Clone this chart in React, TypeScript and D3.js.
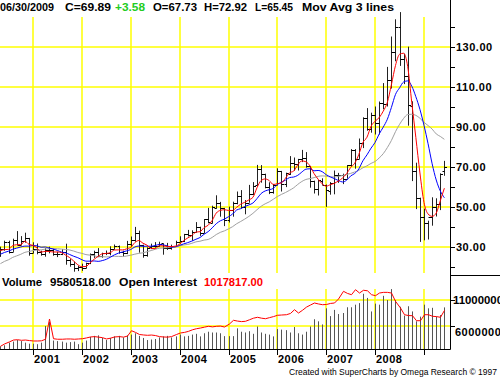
import React from 'react';
import * as d3 from 'd3';

// ---- data (monthly, May 2000 .. Jun 2009) ----
const firstMonth = new Date(2000, 4, 1);
const warmupCloses = [12.05, 12.75, 12.27, 16.76, 18.66, 16.84, 19.29, 20.53, 22.10, 24.51, 21.75, 24.59, 25.60, 27.64, 30.43, 26.90, 25.74];

const opens = [
  25.8, 29.0, 32.5, 27.5, 33.1, 30.9, 32.8, 34.2,
  27.0, 28.7, 27.3, 26.3, 28.5, 28.4, 26.3, 26.4, 27.2, 23.4, 21.2, 19.4,
  19.8, 19.5, 21.7, 26.3, 27.3, 25.3, 26.9, 27.0, 29.0, 30.4, 27.2, 26.9,
  31.2, 33.5, 36.6, 31.0, 25.8, 29.6, 30.2, 30.5, 31.6, 29.2, 29.1, 30.4,
  32.5, 33.0, 36.2, 35.8, 37.4, 39.9, 37.1, 43.8, 42.1, 49.6, 51.8, 49.1,
  43.5, 48.2, 51.8, 55.4, 49.7, 52.0, 56.5, 60.6, 68.9, 66.2, 59.8, 57.3,
  61.0, 67.9, 61.4, 66.6, 71.9, 71.3, 73.9, 74.4, 70.3, 62.9, 58.7, 63.1,
  61.1, 58.1, 61.8, 65.9, 65.7, 64.0, 70.7, 78.2, 74.0, 81.7, 94.5, 88.7,
  96.0, 91.8, 101.8, 101.6, 113.5, 127.4, 140.0, 124.1, 115.5, 100.6, 67.8, 54.4,
  44.6, 41.7, 44.8, 49.7, 51.1, 67.73,
];
const highs = [
  30.0, 33.0, 33.0, 34.0, 37.8, 35.3, 37.0, 34.4,
  32.2, 31.6, 28.0, 29.2, 30.0, 29.0, 27.5, 28.8, 31.5, 23.8, 22.5, 20.5,
  21.5, 22.0, 26.6, 28.0, 29.3, 27.0, 28.1, 30.2, 31.1, 30.6, 28.0, 32.9,
  35.1, 39.9, 38.0, 31.0, 29.7, 31.5, 32.3, 32.5, 31.6, 31.9, 31.0, 33.0,
  35.2, 36.4, 38.4, 38.2, 42.3, 40.0, 43.8, 49.4, 50.5, 55.7, 52.4, 49.4,
  50.0, 52.5, 57.6, 58.3, 53.3, 60.9, 62.3, 70.9, 70.8, 66.5, 62.2, 61.4,
  69.2, 67.9, 67.0, 75.3, 74.6, 73.9, 78.4, 77.3, 70.4, 63.0, 63.3, 64.2,
  61.1, 62.3, 68.1, 66.9, 66.5, 70.8, 78.8, 78.8, 84.1, 94.7, 99.3, 97.0,
  100.1, 102.6, 111.8, 119.9, 135.1, 143.7, 147.3, 126.5, 130.0, 102.7, 72.0, 54.5,
  49.0, 43.0, 54.7, 54.2, 66.7, 72.92,
];
const lows = [
  24.9, 28.0, 26.6, 27.4, 30.8, 30.8, 32.0, 25.5,
  26.8, 26.2, 25.5, 25.0, 26.7, 25.5, 24.8, 25.8, 21.0, 20.0, 17.5, 17.8,
  17.9, 19.2, 21.3, 24.4, 24.8, 24.5, 25.8, 25.7, 28.6, 26.5, 25.1, 26.3,
  29.8, 32.5, 27.0, 24.5, 25.0, 28.8, 29.5, 30.1, 26.0, 28.4, 28.5, 30.1,
  32.2, 32.3, 35.1, 33.0, 37.1, 35.4, 36.7, 41.7, 41.7, 49.0, 45.0, 40.3,
  42.1, 45.0, 51.2, 49.1, 46.2, 52.0, 55.8, 60.5, 62.0, 59.2, 56.3, 56.5,
  60.8, 57.6, 59.8, 65.9, 68.0, 68.1, 72.3, 69.5, 59.5, 56.6, 55.6, 60.9,
  49.9, 56.0, 56.2, 61.9, 61.3, 64.0, 70.0, 69.0, 73.9, 79.3, 88.0, 87.0,
  86.1, 86.1, 98.7, 100.1, 109.1, 122.7, 120.4, 111.3, 90.5, 62.8, 48.8, 32.4,
  33.2, 33.6, 40.5, 45.1, 48.3, 65.45,
];
const closes = [
  29.01, 32.50, 27.43, 33.12, 30.84, 32.70, 34.40, 26.80,
  28.66, 27.39, 26.29, 28.46, 28.37, 26.25, 26.35, 27.20, 23.43, 21.18, 19.44, 19.84,
  19.48, 21.74, 26.31, 27.29, 25.31, 26.86, 27.02, 28.98, 30.45, 27.22, 26.89, 31.20,
  33.51, 36.60, 31.04, 25.80, 29.56, 30.19, 30.54, 31.57, 29.20, 29.11, 30.41, 32.52,
  33.05, 36.16, 35.76, 37.38, 39.88, 37.05, 43.80, 42.12, 49.64, 51.76, 49.13, 43.45,
  48.20, 51.75, 55.40, 49.72, 51.97, 56.50, 60.57, 68.94, 66.24, 59.76, 57.32, 61.04,
  67.92, 61.41, 66.63, 71.88, 71.29, 73.93, 74.40, 70.26, 62.91, 58.73, 63.13, 61.05,
  58.14, 61.79, 65.87, 65.71, 64.01, 70.68, 78.21, 74.04, 81.66, 94.53, 88.71, 95.98,
  91.75, 101.84, 101.58, 113.46, 127.35, 140.00, 124.08, 115.46, 100.64, 67.81, 54.43, 44.60,
  41.68, 44.76, 49.66, 51.12, 66.31, 69.89,
];
// volume in millions of contracts
const volumes = [
  2.1, 2.3, 2.8, 3.0, 3.3, 3.1, 2.8, 2.6,
  2.6, 2.5, 2.8, 6.0, 6.8, 3.2, 3.1, 3.0, 2.8, 2.9, 3.0, 2.5,
  2.8, 3.2, 3.9, 4.1, 4.2, 3.7, 3.3, 3.7, 4.0, 4.1, 3.8, 4.2,
  4.35, 4.6, 4.1, 3.7, 3.3, 3.4, 3.5, 3.8, 4.0, 4.1, 3.8, 4.0,
  4.35, 4.0, 4.1, 4.35, 4.5, 4.0, 4.6, 4.9, 4.75, 4.75, 4.6, 4.05,
  4.05, 4.05, 5.55, 4.9, 4.75, 5.0, 4.5, 5.9, 4.75, 4.5, 4.35, 4.0,
  5.4, 5.3, 5.2, 4.75, 5.8, 4.6, 4.35, 4.9, 5.9, 7.3, 6.9, 6.3,
  9.4, 7.9, 9.1, 8.3, 8.5, 9.6, 9.6, 10.1, 10.4, 12.2, 11.4, 8.8,
  10.3, 10.1, 11.8, 11.0, 13.1, 11.0, 9.7, 8.0, 9.8, 8.8, 6.9, 7.8,
  10.1, 9.4, 9.5, 7.8, 8.1, 9.58,
];
// open interest in thousands of contracts
const openInterest = [
  336, 380, 420, 455, 461, 450, 455, 445,
  437, 437, 440, 470, 854, 480, 470, 470, 475, 475, 470, 475,
  480, 495, 513, 520, 510, 500, 475, 490, 513, 520, 510, 530,
  632, 600, 560, 551, 545, 550, 540, 520, 513, 510, 520, 560,
  589, 600, 620, 650, 670, 683, 700, 716, 705, 716, 720, 702,
  760, 830, 815, 805, 811, 840, 870, 887, 870, 860, 880, 900,
  925, 930, 936, 960, 1031, 968, 1020, 1080, 1120, 1158, 1140, 1126,
  1130, 1150, 1158, 1234, 1380, 1340, 1316, 1411, 1348, 1400, 1390, 1316,
  1297, 1348, 1360, 1360, 1348, 1190, 1063, 936, 920, 917, 822, 822,
  936, 936, 906, 900, 887, 1018,
];
const maPeriods = [18, 9, 4];
const maColors = ['#a0a0a0', '#0000ff', '#ff0000'];
const priceTicks = [30, 50, 70, 90, 110, 130];
const priceMinorTicks = [20, 40, 60, 80, 100, 120, 140];
const yearLabels = ['2001', '2002', '2003', '2004', '2005', '2006', '2007', '2008', ''];
const volGrid = [6000000, 11000000];
const header = [
  { t: '06/30/2009', c: '#000', x: 0, w: 54 },
  { t: 'C=69.89', c: '#000', x: 65, w: 46 },
  { t: '+3.58', c: '#22cc22', x: 115, w: 30 },
  { t: 'O=67.73', c: '#000', x: 153, w: 44 },
  { t: 'H=72.92', c: '#000', x: 204, w: 43 },
  { t: 'L=65.45', c: '#000', x: 255, w: 38 },
  { t: 'Mov Avg 3 lines', c: '#000', x: 302, w: 92 },
];
const volHeader = [
  { t: 'Volume', c: '#000', x: 2, w: 40 },
  { t: '9580518.00', c: '#000', x: 50, w: 61 },
  { t: 'Open Interest', c: '#000', x: 119, w: 78 },
  { t: '1017817.00', c: '#ff0000', x: 204, w: 59 },
];

const FONT = '"Liberation Sans", Arial, sans-serif';
const YELLOW = '#ffff00';

export default function App() {
  const base = new Date(2001, 0, 1);
  const dates = closes.map((_, i) => d3.timeMonth.offset(firstMonth, i));
  const idx = dates.map((d) => d3.timeMonth.count(base, d));
  const x = d3.scaleLinear().domain([0, 96]).range([33, 424]);
  const y = d3.scaleLinear().domain([30, 130]).range([246.7, 46.7]);
  const vy = d3.scaleLinear().domain([6, 11]).range([326, 300]);
  const oy = d3.scaleLinear().domain([0, 1500]).range([364, 285]);
  const px = (i: number) => Math.round(x(idx[i])) + 0.5;

  const all = warmupCloses.concat(closes);
  const off = warmupCloses.length;
  const mas = maPeriods.map((n) =>
    closes.map((_, i) => d3.mean(all.slice(i + off - n + 1, i + off + 1)) as number)
  );
  const line = d3.line<number>().x((_, i) => x(idx[i])).y((v) => y(v)).curve(d3.curveMonotoneX);
  const oiLine = d3.line<number>().x((_, i) => px(i)).y((v) => oy(v));

  const yearTicks = d3.range(0, 97, 12);
  const bottom = 349.5;
  const gx = (t: number) => Math.round(x(t));

  return (
    <svg width={500} height={377} style={{ position: 'absolute', left: 0, top: 0, background: '#fff' }} fontFamily={FONT}>
      <rect width={500} height={377} fill="#fff" />
      {/* grid */}
      {yearTicks.map((t) => (
        <g key={'vg' + t} stroke={YELLOW} strokeWidth={1.5}>
          <line x1={gx(t)} x2={gx(t)} y1={17} y2={273} />
          <line x1={gx(t)} x2={gx(t)} y1={289} y2={bottom} />
        </g>
      ))}
      {priceTicks.map((v) => (
        <line key={'hg' + v} x1={0} x2={450} y1={Math.round(y(v))} y2={Math.round(y(v))} stroke={YELLOW} strokeWidth={1.5} />
      ))}
      {volGrid.map((v) => (
        <line key={'vgh' + v} x1={0} x2={450} y1={Math.round(vy(v / 1e6))} y2={Math.round(vy(v / 1e6))} stroke={YELLOW} strokeWidth={1.5} />
      ))}

      {/* OHLC bars */}
      {closes.map((c, i) => {
        const xi = px(i);
        return (
          <g key={'b' + i} stroke="#222" strokeWidth={1}>
            <line x1={xi} x2={xi} y1={y(highs[i])} y2={y(lows[i])} />
            <line x1={xi - 2} x2={xi} y1={Math.round(y(opens[i])) + 0.5} y2={Math.round(y(opens[i])) + 0.5} stroke="#000" />
            <line x1={xi} x2={xi + 2.5} y1={Math.round(y(c)) + 0.5} y2={Math.round(y(c)) + 0.5} stroke="#000" />
          </g>
        );
      })}

      {/* moving averages */}
      {mas.map((m, k) => (
        <path key={'ma' + k} d={line(m) || ''} fill="none" stroke={maColors[k]} strokeWidth={1} />
      ))}

      {/* volume */}
      {volumes.map((v, i) => (
        <line key={'v' + i} x1={px(i)} x2={px(i)} y1={vy(v)} y2={bottom} stroke="#555" />
      ))}
      <path d={oiLine(openInterest) || ''} fill="none" stroke="#ff0000" strokeWidth={1} />

      {/* axes */}
      <line x1={450.5} x2={450.5} y1={0} y2={bottom} stroke="#000" />
      <line x1={0} x2={450.5} y1={bottom} y2={bottom} stroke="#000" />
      <line x1={450} x2={500} y1={275.5} y2={275.5} stroke="#000" />
      {priceTicks.concat(priceMinorTicks).map((v) => (
        <line key={'pt' + v} x1={450} x2={455} y1={Math.round(y(v)) + 0.5} y2={Math.round(y(v)) + 0.5} stroke="#000" />
      ))}
      {priceTicks.map((v) => (
        <text key={'pl' + v} x={456} y={y(v) + 4} fontSize={11} fontWeight="bold" letterSpacing={0.5} fill="#000">
          {v.toFixed(2)}
        </text>
      ))}
      {volGrid.map((v) => (
        <line key={'vt' + v} x1={450} x2={455} y1={Math.round(vy(v / 1e6)) + 0.5} y2={Math.round(vy(v / 1e6)) + 0.5} stroke="#000" />
      ))}
      <text x={453} y={vy(11) + 4} fontSize={11} fontWeight="bold" textLength={50} lengthAdjust="spacingAndGlyphs">{String(volGrid[1])}</text>
      <text x={455} y={vy(6) + 10} fontSize={11} fontWeight="bold" letterSpacing={0.5}>{String(volGrid[0])}</text>

      {yearTicks.map((t, k) => (
        <g key={'yt' + t}>
          <line x1={gx(t) + 0.5} x2={gx(t) + 0.5} y1={bottom} y2={355} stroke="#000" />
          {yearLabels[k] && (
            <text x={gx(t) + 1} y={363} fontSize={11} fontWeight="bold" letterSpacing={0.5}>
              {yearLabels[k]}
            </text>
          )}
        </g>
      ))}

      {/* header texts */}
      {header.map((h) => (
        <text key={h.t} x={h.x} y={11} fontSize={11} fontWeight="bold" fill={h.c} textLength={h.w} lengthAdjust="spacingAndGlyphs">
          {h.t}
        </text>
      ))}
      {volHeader.map((h) => (
        <text key={h.t} x={h.x} y={286} fontSize={11} fontWeight="bold" fill={h.c} textLength={h.w} lengthAdjust="spacingAndGlyphs">
          {h.t}
        </text>
      ))}
      <text x={289} y={375} fontSize={8.5} fill="#000">
        Created with SuperCharts by Omega Research © 1997
      </text>
    </svg>
  );
}
